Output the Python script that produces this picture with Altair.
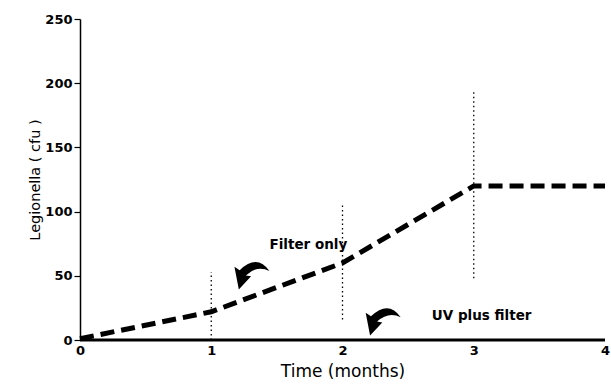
import altair as alt
import pandas as pd

months = [0, 1, 2, 3, 4]
filter_only = [1, 22, 60, 120, 120]
uv_filter = [0, 0, 0, 0, 0]

err_months = [1, 2, 3]
err_low = [0, 16, 48]
err_high = [53, 105, 193]

labels = ["Filter only", "UV plus filter"]
label_x = [1.74, 3.06]
label_y = [74, 18.5]
arrow_x = [1.31, 2.31]
arrow_y = [51, 15]

line_df = pd.DataFrame({"month": months, "filter": filter_only, "uv": uv_filter})
err_df = pd.DataFrame({"month": err_months, "lo": err_low, "hi": err_high})
lab_df = pd.DataFrame({"text": labels, "x": label_x, "y": label_y})
arr_df = pd.DataFrame({"x": arrow_x, "y": arrow_y})

FONT = "DejaVu Sans"

xscale = alt.Scale(domain=[0, 4], nice=False)
yscale = alt.Scale(domain=[0, 250], nice=False)

xaxis = alt.Axis(values=[0, 1, 2, 3, 4], format="d", title="Time (months)",
                 ticks=False, domain=False, grid=False, labelFont=FONT,
                 labelFontWeight="bold", labelFontSize=13, labelColor="black",
                 labelPadding=4, labelFlush=False, titleFont=FONT, titleFontSize=17,
                 titleFontWeight="normal", titleColor="black", titlePadding=6)
yaxis = alt.Axis(values=[0, 50, 100, 150, 200, 250], title="Legionella ( cfu )",
                 ticks=True, tickSize=6, tickColor="black", tickWidth=1.2,
                 domain=True, domainColor="black", domainWidth=1.5, grid=False,
                 labelFont=FONT, labelFontWeight="bold", labelFontSize=13,
                 labelColor="black", labelPadding=2, labelFlush=False,
                 titleFont=FONT, titleFontSize=14.5, titleFontWeight="normal",
                 titleColor="black", titlePadding=2)

base = alt.Chart(line_df)

err = alt.Chart(err_df).mark_rule(color="black", strokeWidth=1.3, strokeDash=[1.5, 3]).encode(
    x=alt.X("month:Q", scale=xscale, axis=xaxis),
    y=alt.Y("lo:Q", scale=yscale, axis=yaxis),
    y2="hi:Q",
)

filt = base.mark_line(color="black", strokeWidth=5, strokeDash=[14, 7]).encode(
    x=alt.X("month:Q", scale=xscale),
    y=alt.Y("filter:Q", scale=yscale),
)

uv = base.mark_line(color="black", strokeWidth=3).encode(
    x=alt.X("month:Q", scale=xscale),
    y=alt.Y("uv:Q", scale=yscale),
)

arrow_path = ("M 1 -0.2 Q 0.3 -1.2 -0.7 -0.25 L -1 -0.45 L -0.75 0.85 "
              "L -0.05 0.1 L -0.35 0.05 Q 0.3 -0.55 1 -0.2 Z")
arrows = alt.Chart(arr_df).mark_point(shape=arrow_path, filled=True, color="black",
                                      opacity=1, size=1225, strokeWidth=0).encode(
    x=alt.X("x:Q", scale=xscale),
    y=alt.Y("y:Q", scale=yscale),
)

texts = alt.Chart(lab_df).mark_text(font=FONT, fontSize=13.5, fontWeight="bold",
                                    color="black", align="center", baseline="middle").encode(
    x=alt.X("x:Q", scale=xscale),
    y=alt.Y("y:Q", scale=yscale),
    text="text:N",
)

chart = (err + filt + uv + arrows + texts).properties(
    width=525, height=321,
    autosize=alt.AutoSizeParams(type="none"),
    padding={"left": 80, "top": 19, "right": 6, "bottom": 47},
    background="white",
).configure_view(stroke=None)

chart.save("out.html", embed_options={"renderer": "svg", "actions": False})
